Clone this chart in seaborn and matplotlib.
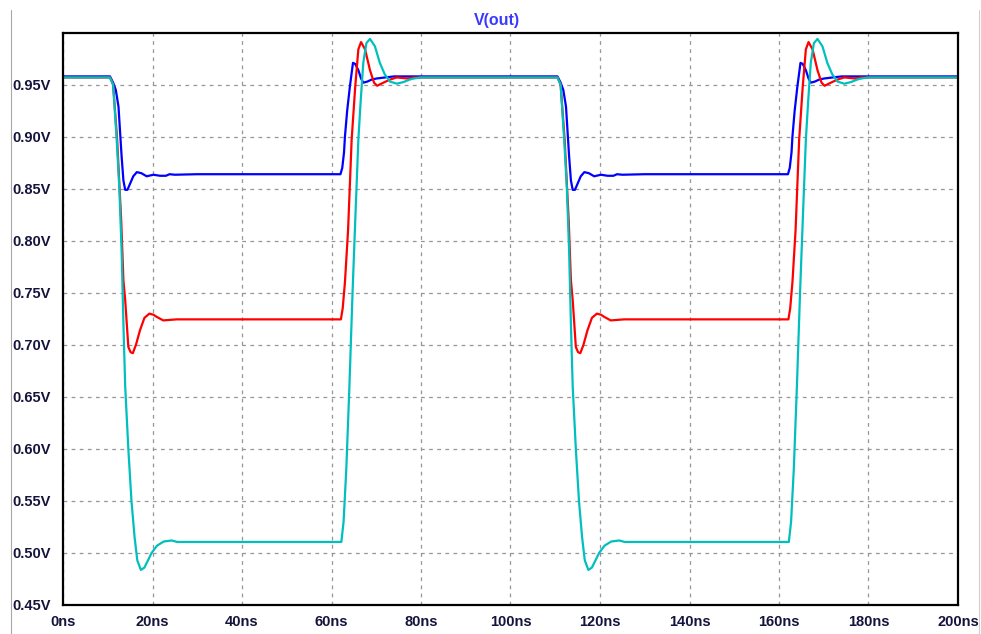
import pandas as pd
import matplotlib.pyplot as plt
from matplotlib.lines import Line2D
import seaborn as sns

# Traces (time in ns, voltage in V)
blue_t = [0, 10.5, 11.2, 11.8, 12.4, 13.1, 13.5, 13.9, 14.4, 15.0, 15.7, 16.5, 17.5, 18.7,
          20.2, 21.7, 23.0, 23.8, 25.0, 30.0, 62.0, 62.4, 62.8, 63.0, 63.5, 64.1, 64.8, 65.3,
          66.0, 66.6, 67.1, 68.0, 69.0, 70.1, 72.0, 74.0,
          110.5, 111.2, 111.8, 112.4, 113.1, 113.5, 113.9, 114.4, 115.0, 115.7, 116.5, 117.5, 118.7,
          120.2, 121.7, 123.0, 123.8, 125.0, 130.0, 162.0, 162.4, 162.8, 163.0, 163.5, 164.1, 164.8,
          165.3, 166.0, 166.6, 167.1, 168.0, 169.0, 170.1, 172.0, 174.0, 200]
blue_v = [0.958, 0.958, 0.952, 0.945, 0.929, 0.881, 0.858, 0.849, 0.849, 0.855, 0.862, 0.866, 0.865, 0.862,
          0.8635, 0.8625, 0.8625, 0.864, 0.8635, 0.864, 0.864, 0.870, 0.885, 0.900, 0.925, 0.948, 0.971, 0.970,
          0.964, 0.956, 0.952, 0.953, 0.955, 0.956, 0.957, 0.958,
          0.958, 0.952, 0.945, 0.929, 0.881, 0.858, 0.849, 0.849, 0.855, 0.862, 0.866, 0.865, 0.862,
          0.8635, 0.8625, 0.8625, 0.864, 0.8635, 0.864, 0.864, 0.870, 0.885, 0.900, 0.925, 0.948, 0.971,
          0.970, 0.964, 0.956, 0.952, 0.953, 0.955, 0.956, 0.957, 0.958, 0.958]

red_t = [0, 10.5, 11.2, 12.1, 13.0, 13.5, 13.9, 14.6, 15.1, 15.6, 16.3, 17.2, 18.2, 19.3, 20.2,
         20.9, 22.4, 25.4, 62.1, 62.5, 63.0, 63.7, 64.5, 65.3, 66.0, 66.6, 67.5, 68.6, 69.5, 70.2,
         71.6, 73.1, 74.6, 76.9, 78.4,
         110.5, 111.2, 112.1, 113.0, 113.5, 113.9, 114.6, 115.1, 115.6, 116.3, 117.2, 118.2, 119.3, 120.2,
         120.9, 122.4, 125.4, 162.1, 162.5, 163.0, 163.7, 164.5, 165.3, 166.0, 166.6, 167.5, 168.6, 169.5,
         170.2, 171.6, 173.1, 174.6, 176.9, 178.4, 200]
red_v = [0.957, 0.957, 0.950, 0.897, 0.820, 0.762, 0.743, 0.698, 0.693, 0.692, 0.700, 0.714, 0.726, 0.730, 0.729,
         0.727, 0.7235, 0.7245, 0.7245, 0.735, 0.760, 0.810, 0.897, 0.948, 0.984, 0.991, 0.984, 0.964, 0.952, 0.949,
         0.952, 0.955, 0.957, 0.956, 0.957,
         0.957, 0.950, 0.897, 0.820, 0.762, 0.743, 0.698, 0.693, 0.692, 0.700, 0.714, 0.726, 0.730, 0.729,
         0.727, 0.7235, 0.7245, 0.7245, 0.735, 0.760, 0.810, 0.897, 0.948, 0.984, 0.991, 0.984, 0.964, 0.952,
         0.949, 0.952, 0.955, 0.957, 0.956, 0.957, 0.957]

cyan_t = [0, 10.5, 11.2, 12.0, 12.6, 13.1, 13.5, 13.9, 14.6, 15.3, 16.0, 16.6, 17.4, 18.2, 19.0,
          19.8, 21.0, 22.5, 24.3, 25.5, 62.2, 62.7, 63.3, 64.0, 64.7, 65.4, 66.0, 66.5, 67.1, 67.8,
          68.6, 69.7, 70.8, 71.9, 73.1, 74.6, 76.1, 77.5, 78.4, 80.0,
          110.5, 111.2, 112.0, 112.6, 113.1, 113.5, 113.9, 114.6, 115.3, 116.0, 116.6, 117.4, 118.2, 119.0,
          119.8, 121.0, 122.5, 124.3, 125.5, 162.2, 162.7, 163.3, 164.0, 164.7, 165.4, 166.0, 166.5, 167.1,
          167.8, 168.6, 169.7, 170.8, 171.9, 173.1, 174.6, 176.1, 177.5, 178.4, 180.0, 200]
cyan_v = [0.957, 0.957, 0.950, 0.897, 0.850, 0.790, 0.720, 0.660, 0.600, 0.550, 0.515, 0.493, 0.4837, 0.486, 0.493,
          0.500, 0.507, 0.511, 0.512, 0.5106, 0.5106, 0.530, 0.580, 0.660, 0.750, 0.830, 0.897, 0.933, 0.971, 0.990,
          0.994, 0.987, 0.971, 0.960, 0.953, 0.951, 0.9526, 0.955, 0.956, 0.957,
          0.957, 0.950, 0.897, 0.850, 0.790, 0.720, 0.660, 0.600, 0.550, 0.515, 0.493, 0.4837, 0.486, 0.493,
          0.500, 0.507, 0.511, 0.512, 0.5106, 0.5106, 0.530, 0.580, 0.660, 0.750, 0.830, 0.897, 0.933, 0.971,
          0.990, 0.994, 0.987, 0.971, 0.960, 0.953, 0.951, 0.9526, 0.955, 0.956, 0.957, 0.957]

x_ticks = list(range(0, 201, 20))
y_ticks = [0.45, 0.50, 0.55, 0.60, 0.65, 0.70, 0.75, 0.80, 0.85, 0.90, 0.95]

df = pd.concat([
    pd.DataFrame({'t': blue_t, 'v': blue_v, 'trace': 'blue'}),
    pd.DataFrame({'t': red_t, 'v': red_v, 'trace': 'red'}),
    pd.DataFrame({'t': cyan_t, 'v': cyan_v, 'trace': 'cyan'}),
], ignore_index=True)

sns.set_style('white')
plt.rcParams['font.family'] = ['Liberation Sans', 'DejaVu Sans']

fig = plt.figure(figsize=(9.81, 6.34), dpi=100)
ax = fig.add_axes([63 / 981, 1 - 605 / 634, (958 - 63) / 981, (605 - 32.7) / 634])

sns.lineplot(data=df, x='t', y='v', hue='trace', sort=False, estimator=None,
             palette={'blue': '#0000ff', 'red': '#ff0000', 'cyan': '#00bfbf'},
             linewidth=1.6, legend=False, ax=ax)

ax.set_xlim(0, 200)
ax.set_ylim(0.45, 1.0)
ax.set_xticks(x_ticks)
ax.set_xticklabels([f'{x}ns' for x in x_ticks])
ax.set_yticks(y_ticks)
ax.set_yticklabels([f'{y:.2f}V' for y in y_ticks])
ax.set_xlabel('')
ax.set_ylabel('')

ax.grid(True, color='#969696', linestyle=(0, (3, 3.5)), linewidth=0.9)
for s in ax.spines.values():
    s.set_color('black')
    s.set_linewidth(1.6)
ax.tick_params(axis='both', direction='out', width=1.6, color='black',
               labelsize=10.5, labelcolor='#14143c')
ax.tick_params(axis='y', length=8, pad=0.5)
ax.tick_params(axis='x', length=6, pad=1.5)
for lab in ax.get_xticklabels() + ax.get_yticklabels():
    lab.set_fontweight('bold')

fig.text(0.507, 1 - 20 / 634, 'V(out)', color='#3a3aff', fontsize=11.5, fontweight='bold',
         ha='center', va='center')

# window border lines
fig.add_artist(Line2D([11 / 981, 11 / 981], [0, 1 - 10 / 634], color='#a8a8a8', linewidth=0.8))
fig.add_artist(Line2D([979 / 981, 979 / 981], [0, 1 - 10 / 634], color='#d0d0d0', linewidth=0.8))

fig.savefig('out.png', dpi=100)
